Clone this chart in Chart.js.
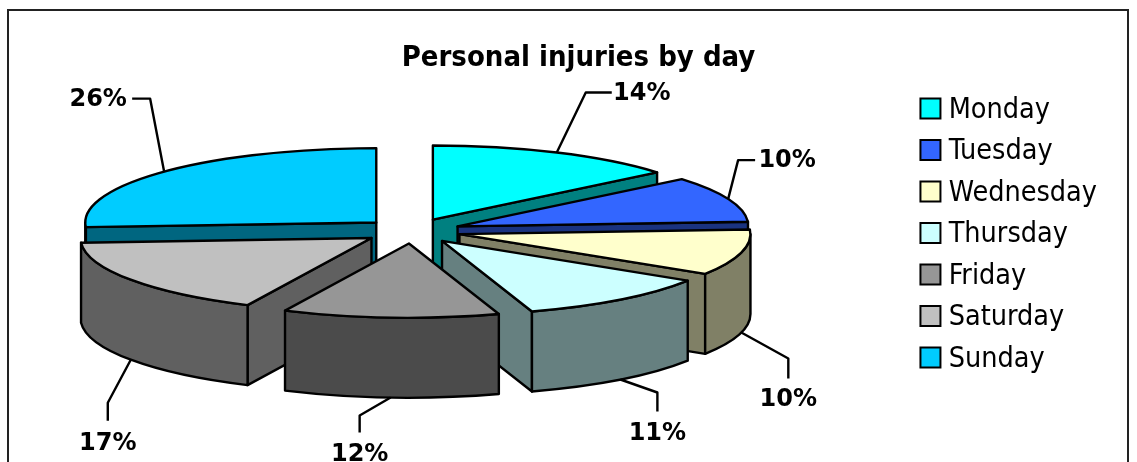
<!DOCTYPE html>
<html>
<head>
<meta charset="utf-8">
<title>Personal injuries by day</title>
<script src="https://cdn.jsdelivr.net/npm/chart.js@4"></script>
<style>
body { margin: 0; background: #fff; overflow: hidden; }
canvas { display: block; }
</style>
</head>
<body>
<canvas id="pie" width="1137" height="462"></canvas>
<script>
// data
const days = ['Monday', 'Tuesday', 'Wednesday', 'Thursday', 'Friday', 'Saturday', 'Sunday'];
const injuries = [14, 10, 10, 11, 12, 17, 26];
const topColors = ['#00FFFF', '#3366FF', '#FFFFCC', '#CCFFFF', '#969696', '#C0C0C0', '#00CCFF'];
const sideColors = ['#008080', '#1A3380', '#808066', '#668080', '#4B4B4B', '#606060', '#006680'];

// look of the tilted pie
const FONT = "'DejaVu Sans', sans-serif";
const CONDENSED = "'DejaVu Sans Condensed', 'DejaVu Sans', sans-serif";
const PIE_X = 412, PIE_Y = 231;  // where the pie centre goes on the canvas
const RADIUS = 291;
const TILT = 0.255;              // vertical squash
const EXPLODE = 49;              // how far each slice is pulled out
const DEPTH = 80;                // wall height
const paintOrder = [0, 6, 1, 2, 5, 3, 4]; // back to front
const LEGEND_BOX = 20;

// leader line of each label, relative to its spot on the rim: elbow, end of line, text centre
const leaders = [
  { elbow: [29, -60], end: [55, -60], text: [85, -59] },
  { elbow: [10, -39], end: [27, -39], text: [59, -38] },
  { elbow: [47, 26], end: [47, 46], text: [47, 67] },
  { elbow: [37, 13], end: [37, 32], text: [37, 54] },
  { elbow: [-31, 18], end: [-31, 35], text: [-31, 57] },
  { elbow: [-23, 43], end: [-23, 61], text: [-23, 84] },
  { elbow: [-14, -73], end: [-32, -73], text: [-66, -72] }
];

function sliceShape(arc) {
  const mid = (arc.startAngle + arc.endAngle) / 2;
  return {
    mid,
    x: PIE_X + EXPLODE * Math.cos(mid),
    y: PIE_Y + EXPLODE * Math.sin(mid) * TILT,
    ry: RADIUS * TILT
  };
}

function rimPoint(s, angle, drop) {
  return [s.x + RADIUS * Math.cos(angle), s.y + s.ry * Math.sin(angle) + drop];
}

function drawFace(ctx, s, angle) {
  const rim = rimPoint(s, angle, 0);
  ctx.beginPath();
  ctx.moveTo(s.x, s.y);
  ctx.lineTo(rim[0], rim[1]);
  ctx.lineTo(rim[0], rim[1] + DEPTH);
  ctx.lineTo(s.x, s.y + DEPTH);
  ctx.closePath();
  ctx.fill();
  ctx.stroke();
}

function drawWalls(ctx, arc, color) {
  const s = sliceShape(arc);
  ctx.fillStyle = color;
  // a cut face only shows when it looks towards the viewer
  if (Math.cos(arc.startAngle) < 0) drawFace(ctx, s, arc.startAngle);
  if (Math.cos(arc.endAngle) > 0) drawFace(ctx, s, arc.endAngle);
  const a0 = Math.max(arc.startAngle, 0);
  const a1 = Math.min(arc.endAngle, Math.PI);
  if (a1 > a0) {
    ctx.beginPath();
    ctx.ellipse(s.x, s.y, RADIUS, s.ry, 0, a0, a1);
    ctx.ellipse(s.x, s.y + DEPTH, RADIUS, s.ry, 0, a1, a0, true);
    ctx.closePath();
    ctx.fill();
    ctx.stroke();
  }
}

const tiltedPie = {
  id: 'tiltedPie',
  beforeDraw(chart) {
    const ctx = chart.ctx;
    ctx.save();
    ctx.fillStyle = '#fff';
    ctx.fillRect(0, 0, chart.width, chart.height);
    ctx.strokeStyle = '#222';
    ctx.lineWidth = 2;
    ctx.strokeRect(8, 10, 1120, 470);
    ctx.restore();
  },
  beforeDatasetsDraw(chart) {
    const ctx = chart.ctx;
    const arcs = chart.getDatasetMeta(0).data;
    ctx.save();
    ctx.lineWidth = 2.4;
    ctx.lineJoin = 'round';
    ctx.strokeStyle = '#000';

    paintOrder.forEach(i => drawWalls(ctx, arcs[i], sideColors[i]));

    // slice tops go through the library's own arc element
    arcs.forEach(arc => {
      const s = sliceShape(arc);
      ctx.save();
      ctx.translate(s.x, s.y);
      ctx.scale(1, TILT);
      ctx.translate(-arc.x, -arc.y);
      arc.draw(ctx);
      ctx.restore();
      ctx.beginPath();
      ctx.moveTo(s.x, s.y);
      ctx.ellipse(s.x, s.y, RADIUS, s.ry, 0, arc.startAngle, arc.endAngle);
      ctx.closePath();
      ctx.stroke();
    });

    // percent labels and leader lines
    ctx.font = 'bold 24px ' + FONT;
    ctx.fillStyle = '#000';
    ctx.textAlign = 'center';
    ctx.textBaseline = 'middle';
    arcs.forEach((arc, i) => {
      const s = sliceShape(arc);
      const p = rimPoint(s, s.mid, Math.sin(s.mid) > 0 ? DEPTH : 0);
      const l = leaders[i];
      ctx.beginPath();
      ctx.moveTo(p[0], p[1]);
      ctx.lineTo(p[0] + l.elbow[0], p[1] + l.elbow[1]);
      ctx.lineTo(p[0] + l.end[0], p[1] + l.end[1]);
      ctx.stroke();
      ctx.fillText(injuries[i] + '%', p[0] + l.text[0], p[1] + l.text[1]);
    });
    ctx.restore();
    return false;
  },
  // the legend keeps its text close to the swatch, so the swatch is painted here
  afterDraw(chart) {
    const ctx = chart.ctx;
    ctx.save();
    ctx.strokeStyle = '#000';
    ctx.lineWidth = 2;
    chart.legend.legendHitBoxes.forEach((box, i) => {
      const y = box.top + (box.height - LEGEND_BOX) / 2 - 2;
      ctx.fillStyle = topColors[i];
      ctx.fillRect(box.left, y, LEGEND_BOX, LEGEND_BOX);
      ctx.strokeRect(box.left, y, LEGEND_BOX, LEGEND_BOX);
    });
    ctx.restore();
  }
};

new Chart(document.getElementById('pie'), {
  type: 'pie',
  data: {
    labels: days,
    datasets: [{
      data: injuries,
      backgroundColor: topColors,
      borderWidth: 0,
      radius: RADIUS
    }]
  },
  options: {
    responsive: false,
    animation: false,
    layout: { padding: { left: 50, right: 30, top: 8 } },
    plugins: {
      tooltip: { enabled: false },
      title: {
        display: true,
        text: 'Personal injuries by day',
        color: '#000',
        font: { family: CONDENSED, size: 29, weight: 'bold' },
        padding: { top: 33, bottom: 22 }
      },
      legend: {
        position: 'right',
        labels: {
          color: '#000',
          font: { family: CONDENSED, size: 28.5 },
          boxWidth: 14,
          boxHeight: 20,
          padding: 13,
          generateLabels(chart) {
            return Chart.overrides.pie.plugins.legend.labels.generateLabels(chart).map(item => {
              item.fillStyle = 'transparent';
              item.lineWidth = 0;
              return item;
            });
          }
        }
      }
    }
  },
  plugins: [tiltedPie]
});
</script>
</body>
</html>
